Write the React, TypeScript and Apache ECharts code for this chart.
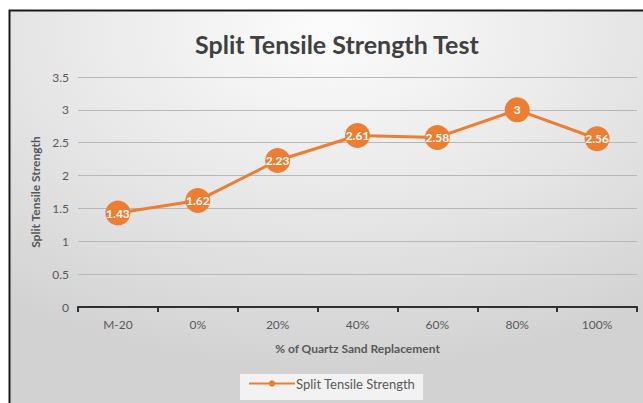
import React, { useEffect, useRef } from "react";
import * as echarts from "echarts";

const categories = ["M-20", "0%", "20%", "40%", "60%", "80%", "100%"];
const strengthValues = [1.43, 1.62, 2.23, 2.61, 2.58, 3, 2.56];
const seriesName = "Split Tensile Strength";
const titleText = "Split Tensile Strength Test";
const xAxisTitle = "% of Quartz Sand Replacement";
const yAxisTitle = "Split Tensile Strength";

const FONT = "Lato, 'Open Sans', sans-serif";

export default function App() {
  const ref = useRef<HTMLDivElement>(null);
  useEffect(() => {
    if (!ref.current) return;
    const chart = echarts.init(ref.current, undefined, { renderer: "svg" });
    chart.setOption({
      animation: false,
      textStyle: { fontFamily: FONT },
      graphic: [
        {
          type: "rect",
          z: -10,
          silent: true,
          shape: { x: 9.5, y: 10.5, width: 640, height: 400 },
          style: {
            fill: {
              type: "radial",
              x: 0.5,
              y: 0.05,
              r: 0.85,
              colorStops: [
                { offset: 0, color: "#fcfcfc" },
                { offset: 0.5, color: "#e8e8e8" },
                { offset: 1, color: "#d2d2d2" },
              ],
            },
            stroke: "#1a1a1a",
            lineWidth: 2,
          },
        },
        {
          type: "rect",
          z: -5,
          silent: true,
          shape: { x: 240, y: 374, width: 183, height: 26 },
          style: { fill: "#f2f2f2" },
        },
      ],
      title: {
        text: titleText,
        left: 190,
        top: 26,
        textStyle: {
          fontFamily: FONT,
          fontSize: 25,
          fontWeight: "bold",
          color: "#404040",
        },
      },
      legend: {
        bottom: 8,
        left: 243,
        itemWidth: 46,
        itemHeight: 8,
        itemGap: 0,
        textStyle: { color: "#595959", fontSize: 13, fontFamily: FONT, padding: [0, 0, 0, -4] },
        data: [seriesName],
      },
      grid: { left: 78, right: 6, top: 77, bottom: 96 },
      xAxis: {
        type: "category",
        data: categories,
        boundaryGap: true,
        name: xAxisTitle,
        nameLocation: "middle",
        nameGap: 35,
        nameTextStyle: { fontWeight: "bold", fontSize: 12, color: "#595959", fontFamily: FONT },
        axisLine: { lineStyle: { color: "#303030", width: 2 } },
        axisTick: { show: true, length: 5, lineStyle: { color: "#303030", width: 2 } },
        axisLabel: { color: "#595959", fontSize: 12, margin: 11, fontFamily: FONT },
      },
      yAxis: {
        type: "value",
        min: 0,
        max: 3.5,
        interval: 0.5,
        name: yAxisTitle,
        nameLocation: "middle",
        nameGap: 32,
        nameTextStyle: { fontWeight: "bold", fontSize: 12, color: "#595959", fontFamily: FONT },
        axisLine: { show: false },
        axisTick: { show: false },
        axisLabel: { color: "#595959", fontSize: 12, margin: 9, fontFamily: FONT },
        splitLine: { lineStyle: { color: "#b8b8b8", width: 1 } },
      },
      series: [
        {
          name: seriesName,
          type: "line",
          data: strengthValues,
          symbol: "circle",
          symbolSize: 25,
          lineStyle: { color: "#ED7D31", width: 3 },
          itemStyle: { color: "#ED7D31" },
          label: {
            show: true,
            position: "inside",
            color: "#ffffff",
            fontWeight: "bold",
            fontSize: 12,
            fontFamily: FONT,
          },
        },
      ],
    });
    return () => chart.dispose();
  }, []);
  return (
    <div style={{ position: "absolute", left: 0, top: 0, width: 643, height: 403, background: "#ffffff" }}>
      <div ref={ref} style={{ width: 643, height: 403 }} />
    </div>
  );
}
